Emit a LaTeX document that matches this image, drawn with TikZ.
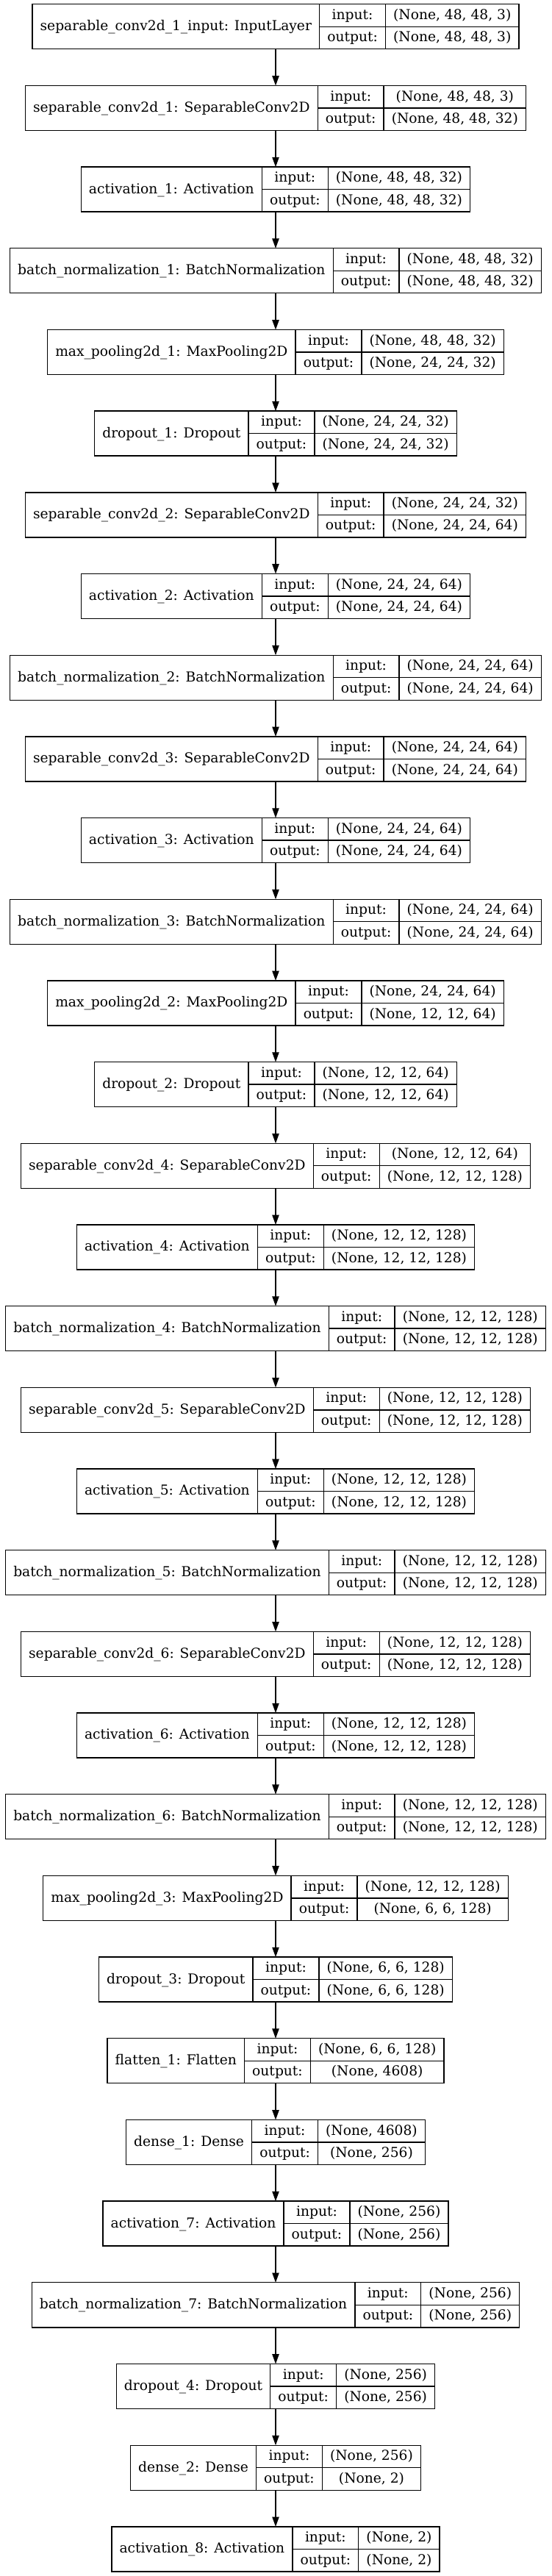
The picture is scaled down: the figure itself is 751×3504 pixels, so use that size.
\documentclass[tikz,border=0pt]{standalone}
\usepackage{fontspec}
\setmainfont{DejaVu Serif}
\usetikzlibrary{arrows.meta}
\font\lfontp="DejaVu Serif" at 18.67bp
\newcommand\lfont{\lfontp}
\newdimen\lwA \newdimen\lwB \newdimen\lwC \newdimen\lwT \newdimen\lwX
\newsavebox\lbox
\tikzset{
  record/.style={draw=none, inner sep=0, outer sep=0, minimum height=61bp},
  cell/.style={draw, line width=1.33bp, inner sep=0, outer sep=0, minimum height=30.5bp,
    font=\lfont, text height=14bp, text depth=3.2bp, anchor=north west},
  arr/.style={line width=1.33bp, -{Triangle[length=13.3bp, width=9.3bp]}}
}
\newcommand\measure[2]{\sbox\lbox{\lfont #2}#1=\wd\lbox}
\newcommand\layer[4]{% #1 index, #2 label, #3 in, #4 out
  \measure\lwA{#2}\advance\lwA 21.33bp
  \measure\lwB{output:}\advance\lwB 21.33bp
  \measure\lwC{#3}\measure\lwX{#4}%
  \ifdim\lwX>\lwC \lwC=\lwX\fi \advance\lwC 21.33bp
  \lwT=\lwA \advance\lwT\lwB \advance\lwT\lwC
  \edef\wA{\the\lwA}\edef\wB{\the\lwB}\edef\wC{\the\lwC}\edef\wT{\the\lwT}%
  \pgfmathsetmacro\yc{3504-(5.8+110.68*#1+30.5)}%
  \node[record, minimum width=\wT] (n#1) at (375,\yc) {};
  \node[cell, minimum width=\wA, minimum height=61bp] (n#1l) at (n#1.north west) {#2};
  \node[cell, minimum width=\wB] (n#1i) at (n#1l.north east) {input:};
  \node[cell, minimum width=\wB] (n#1o) at (n#1i.south west) {output:};
  \node[cell, minimum width=\wC] (n#1a) at (n#1i.north east) {#3};
  \node[cell, minimum width=\wC] (n#1b) at (n#1a.south west) {#4};
}
\begin{document}
\begin{tikzpicture}[x=1bp, y=1bp]
\useasboundingbox (0,0) rectangle (751,3504);
\fill[white] (0,0) rectangle (751,3504);
\layer{0}{separable\_conv2d\_1\_input: InputLayer}{(None, 48, 48, 3)}{(None, 48, 48, 3)}
\layer{1}{separable\_conv2d\_1: SeparableConv2D}{(None, 48, 48, 3)}{(None, 48, 48, 32)}
\layer{2}{activation\_1: Activation}{(None, 48, 48, 32)}{(None, 48, 48, 32)}
\layer{3}{batch\_normalization\_1: BatchNormalization}{(None, 48, 48, 32)}{(None, 48, 48, 32)}
\layer{4}{max\_pooling2d\_1: MaxPooling2D}{(None, 48, 48, 32)}{(None, 24, 24, 32)}
\layer{5}{dropout\_1: Dropout}{(None, 24, 24, 32)}{(None, 24, 24, 32)}
\layer{6}{separable\_conv2d\_2: SeparableConv2D}{(None, 24, 24, 32)}{(None, 24, 24, 64)}
\layer{7}{activation\_2: Activation}{(None, 24, 24, 64)}{(None, 24, 24, 64)}
\layer{8}{batch\_normalization\_2: BatchNormalization}{(None, 24, 24, 64)}{(None, 24, 24, 64)}
\layer{9}{separable\_conv2d\_3: SeparableConv2D}{(None, 24, 24, 64)}{(None, 24, 24, 64)}
\layer{10}{activation\_3: Activation}{(None, 24, 24, 64)}{(None, 24, 24, 64)}
\layer{11}{batch\_normalization\_3: BatchNormalization}{(None, 24, 24, 64)}{(None, 24, 24, 64)}
\layer{12}{max\_pooling2d\_2: MaxPooling2D}{(None, 24, 24, 64)}{(None, 12, 12, 64)}
\layer{13}{dropout\_2: Dropout}{(None, 12, 12, 64)}{(None, 12, 12, 64)}
\layer{14}{separable\_conv2d\_4: SeparableConv2D}{(None, 12, 12, 64)}{(None, 12, 12, 128)}
\layer{15}{activation\_4: Activation}{(None, 12, 12, 128)}{(None, 12, 12, 128)}
\layer{16}{batch\_normalization\_4: BatchNormalization}{(None, 12, 12, 128)}{(None, 12, 12, 128)}
\layer{17}{separable\_conv2d\_5: SeparableConv2D}{(None, 12, 12, 128)}{(None, 12, 12, 128)}
\layer{18}{activation\_5: Activation}{(None, 12, 12, 128)}{(None, 12, 12, 128)}
\layer{19}{batch\_normalization\_5: BatchNormalization}{(None, 12, 12, 128)}{(None, 12, 12, 128)}
\layer{20}{separable\_conv2d\_6: SeparableConv2D}{(None, 12, 12, 128)}{(None, 12, 12, 128)}
\layer{21}{activation\_6: Activation}{(None, 12, 12, 128)}{(None, 12, 12, 128)}
\layer{22}{batch\_normalization\_6: BatchNormalization}{(None, 12, 12, 128)}{(None, 12, 12, 128)}
\layer{23}{max\_pooling2d\_3: MaxPooling2D}{(None, 12, 12, 128)}{(None, 6, 6, 128)}
\layer{24}{dropout\_3: Dropout}{(None, 6, 6, 128)}{(None, 6, 6, 128)}
\layer{25}{flatten\_1: Flatten}{(None, 6, 6, 128)}{(None, 4608)}
\layer{26}{dense\_1: Dense}{(None, 4608)}{(None, 256)}
\layer{27}{activation\_7: Activation}{(None, 256)}{(None, 256)}
\layer{28}{batch\_normalization\_7: BatchNormalization}{(None, 256)}{(None, 256)}
\layer{29}{dropout\_4: Dropout}{(None, 256)}{(None, 256)}
\layer{30}{dense\_2: Dense}{(None, 256)}{(None, 2)}
\layer{31}{activation\_8: Activation}{(None, 2)}{(None, 2)}
\foreach \i [evaluate=\i as \j using {int(\i+1)}] in {0,...,30}
  \draw[arr] (n\i.south) -- (n\j.north);
\end{tikzpicture}
\end{document}
